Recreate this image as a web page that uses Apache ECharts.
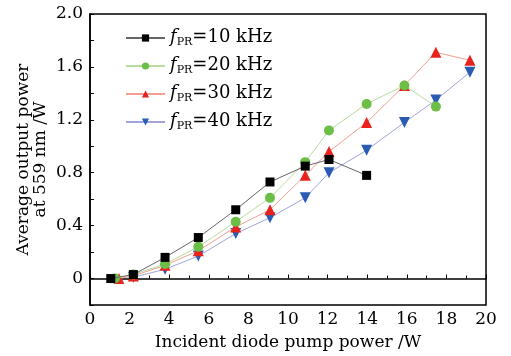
<!DOCTYPE html>
<html>
<head>
<meta charset="utf-8">
<script src="https://cdn.jsdelivr.net/npm/echarts@6/dist/echarts.min.js"></script>
<style>
  html, body { margin: 0; padding: 0; background: #fff; }
  #chart { width: 511px; height: 356px; }
</style>
</head>
<body>
<div id="chart"></div>
<script>
// pump power (W) and output power (W) for each repetition rate
const freqLabels = ['10', '20', '30', '40'];

const pump10 = [1.05, 2.19, 3.79, 5.47, 7.36, 9.09, 10.87, 12.07, 13.97];
const power10 = [0, 0.03, 0.16, 0.31, 0.52, 0.73, 0.85, 0.90, 0.78];

const pump20 = [1.26, 2.19, 3.79, 5.47, 7.36, 9.09, 10.87, 12.07, 13.97, 15.88, 17.47];
const power20 = [0, 0.03, 0.11, 0.24, 0.43, 0.61, 0.88, 1.12, 1.32, 1.46, 1.30];

const pump30 = [1.46, 2.19, 3.79, 5.47, 7.36, 9.09, 10.87, 12.07, 13.97, 15.88, 17.47, 19.19];
const power30 = [0, 0.02, 0.10, 0.21, 0.39, 0.52, 0.78, 0.96, 1.18, 1.46, 1.71, 1.65];

const pump40 = [2.19, 3.79, 5.47, 7.36, 9.09, 10.87, 12.07, 13.97, 15.88, 17.47, 19.19];
const power40 = [0.01, 0.07, 0.17, 0.34, 0.46, 0.61, 0.80, 0.97, 1.18, 1.35, 1.56];

const yTickLabels = ['0', '0.4', '0.8', '1.2', '1.6', '2.0'];

const font = 'DejaVu Serif';

const pairs = (xs, ys) => xs.map((x, i) => [x, ys[i]]);

const mk = (idx, xs, ys, lineColor, markColor, symbol, size, rotate) => ({
  name: 'f' + idx,
  type: 'line',
  data: pairs(xs, ys),
  symbol: symbol,
  symbolSize: size,
  symbolRotate: rotate,
  showAllSymbol: true,
  lineStyle: { color: lineColor, width: 1 },
  itemStyle: { color: markColor, borderColor: markColor, borderWidth: 0 },
  emphasis: { disabled: true },
  z: 10 - idx
});

const chart = echarts.init(document.getElementById('chart'));

const option = {
  animation: false,
  backgroundColor: '#fff',
  grid: {
    left: 90, right: 25, top: 14, bottom: 49,
    show: true, borderColor: '#000', borderWidth: 1.5
  },
  legend: {
    orient: 'vertical',
    left: 120, top: 20,
    itemWidth: 39, itemHeight: 9, itemGap: 5,
    selectedMode: false,
    data: ['f0', 'f1', 'f2', 'f3'],
    formatter: function (name) {
      const i = Number(name.slice(1));
      return '{f|f}{s|PR}{n|=' + freqLabels[i] + ' kHz}';
    },
    textStyle: {
      fontFamily: font,
      color: '#000',
      rich: {
        f: { fontFamily: font, fontStyle: 'italic', fontSize: 18, lineHeight: 20, verticalAlign: 'top', color: '#000' },
        s: { fontFamily: font, fontSize: 11, lineHeight: 12, padding: [12, 0, 0, 0], verticalAlign: 'bottom', color: '#000' },
        n: { fontFamily: font, fontSize: 18, lineHeight: 20, verticalAlign: 'top', color: '#000' }
      }
    }
  },
  xAxis: {
    type: 'value',
    min: 0, max: 20, interval: 2,
    name: 'Incident diode pump power /W',
    nameLocation: 'middle',
    nameGap: 29,
    nameMoveOverlap: false,
    nameTextStyle: { fontFamily: font, fontSize: 17, color: '#000' },
    axisLine: { lineStyle: { color: '#000', width: 1.5 } },
    axisTick: { inside: true, length: 4, lineStyle: { color: '#000' } },
    minorTick: { show: true, splitNumber: 2, length: 3, lineStyle: { color: '#000' } },
    axisLabel: { fontFamily: font, fontSize: 17, color: '#000', margin: 6 },
    splitLine: { show: false }
  },
  yAxis: {
    type: 'value',
    min: -0.2, max: 2.0, interval: 0.2,
    name: 'Average output power\nat 559 nm /W',
    nameLocation: 'middle',
    nameGap: 41,
    nameMoveOverlap: false,
    nameTextStyle: { fontFamily: font, fontSize: 17, color: '#000', lineHeight: 17, align: 'center' },
    axisLine: { lineStyle: { color: '#000', width: 1.5 } },
    axisTick: { inside: true, length: 4, lineStyle: { color: '#000' } },
    axisLabel: {
      fontFamily: font, fontSize: 17, color: '#000', margin: 7,
      formatter: function (v) {
        const k = Math.round(v / 0.2);
        if (k < 0 || k % 2 !== 0) return '';
        return yTickLabels[k / 2];
      }
    },
    splitLine: { show: false }
  },
  series: [
    mk(0, pump10, power10, '#666666', '#000000', 'rect', 9, 0),
    mk(1, pump20, power20, '#b8dca0', '#6cbf46', 'circle', 10, 0),
    mk(2, pump30, power30, '#f4a090', '#e8231e', 'triangle', 11, 0),
    mk(3, pump40, power40, '#a0a4dc', '#2a5cb4', 'triangle', 11, 180)
  ]
};

chart.setOption(option);
</script>
</body>
</html>
